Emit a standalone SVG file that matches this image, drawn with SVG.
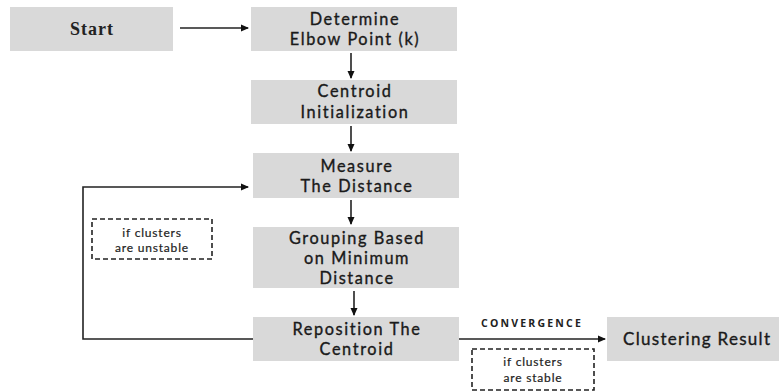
<svg xmlns="http://www.w3.org/2000/svg" width="779" height="392" viewBox="0 0 779 392">
<defs>
<marker id="ah" markerWidth="8" markerHeight="8" refX="7" refY="4" orient="auto" markerUnits="userSpaceOnUse">
<path d="M0,0.5 L8,4 L0,7.5 Z" fill="#111"/>
</marker>
<style>
.box{fill:#d9d9d9;}
.t{font-family:Lato,"Open Sans",sans-serif;font-size:16.3px;letter-spacing:1.6px;fill:#1a1a1a;stroke:#1a1a1a;stroke-width:0.35px;text-anchor:middle;}
.s{font-family:Lato,"Open Sans",sans-serif;font-size:12px;letter-spacing:0.8px;fill:#222;stroke:#222;stroke-width:0.2px;text-anchor:middle;}
.dash{fill:none;stroke:#222;stroke-width:1.6;stroke-dasharray:5,3;}
.c{fill:none;stroke:#222;stroke-width:1.6;}
</style>
</defs>
<rect width="779" height="392" fill="#fff"/>
<g id="start"><rect class="box" x="10" y="7" width="163" height="44"/><text x="92" y="35" style="font-family:'Liberation Serif',serif;font-size:18px;letter-spacing:1px;font-weight:bold;fill:#222;text-anchor:middle">Start</text></g>
<g id="elbow"><rect class="box" x="251" y="7" width="206" height="44"/><text class="t" x="355" y="25">Determine</text><text class="t" x="355" y="45">Elbow Point (k)</text></g>
<g id="init"><rect class="box" x="251" y="80" width="206" height="44"/><text class="t" x="355" y="97">Centroid</text><text class="t" x="355" y="118">Initialization</text></g>
<g id="measure"><rect class="box" x="253" y="153" width="206" height="45"/><text class="t" x="357" y="172">Measure</text><text class="t" x="357" y="192">The Distance</text></g>
<g id="group"><rect class="box" x="253" y="227" width="206" height="61"/><text class="t" x="357" y="244">Grouping Based</text><text class="t" x="357" y="264">on Minimum</text><text class="t" x="357" y="284">Distance</text></g>
<g id="reposition"><rect class="box" x="253" y="317" width="206" height="44"/><text class="t" x="357" y="335">Reposition The</text><text class="t" x="357" y="355">Centroid</text></g>
<g id="result"><rect class="box" x="607" y="317" width="172" height="44"/><text class="t" x="623" y="345" style="text-anchor:start;font-size:17px;letter-spacing:1.3px">Clustering Result</text></g>
<g id="unstable"><rect class="dash" x="92" y="219" width="120" height="40"/><text class="s" x="152" y="237">if clusters</text><text class="s" x="152" y="252">are unstable</text></g>
<g id="stable"><rect class="dash" x="472" y="349" width="122" height="41"/><text class="s" x="533" y="366">if clusters</text><text class="s" x="533" y="382">are stable</text></g>
<g id="connectors">
<line class="c" x1="180" y1="28" x2="248" y2="28" marker-end="url(#ah)"/>
<line class="c" x1="351" y1="53" x2="351" y2="78" marker-end="url(#ah)"/>
<line class="c" x1="351" y1="126" x2="351" y2="151" marker-end="url(#ah)"/>
<line class="c" x1="351" y1="200" x2="351" y2="224" marker-end="url(#ah)"/>
<line class="c" x1="354" y1="291" x2="354" y2="315" marker-end="url(#ah)"/>
<polyline class="c" points="253,339 83,339 83,187 248,187" marker-end="url(#ah)"/>
<line class="c" x1="459" y1="339" x2="605" y2="339" marker-end="url(#ah)"/>
<text x="532" y="327" style="font-family:'Open Sans','Liberation Sans',sans-serif;font-size:10.5px;letter-spacing:2.2px;font-weight:bold;fill:#222;text-anchor:middle">CONVERGENCE</text>
</g>
</svg>
